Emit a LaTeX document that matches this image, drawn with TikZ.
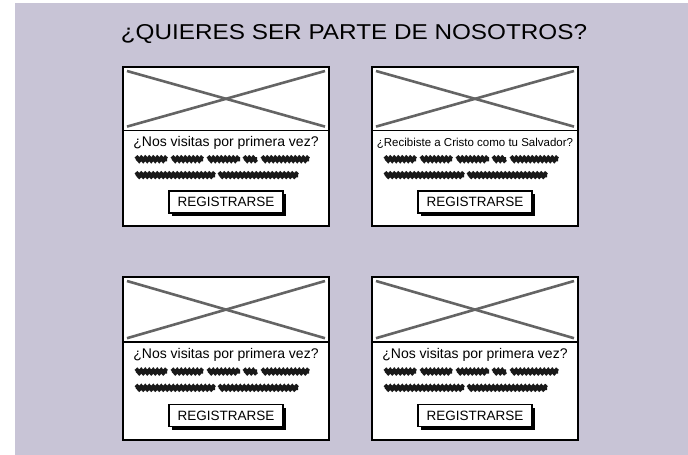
\documentclass[tikz,border=0pt]{standalone}
\usepackage{fontspec}
\setmainfont{Liberation Sans}
\usetikzlibrary{decorations.pathmorphing,shadows}
\definecolor{lav}{RGB}{200,196,214}
\definecolor{xgray}{RGB}{100,100,100}
\tikzset{
  cardbox/.style={draw=black, line width=2pt, fill=white, anchor=north west, minimum width=206pt, inner sep=0pt, outer sep=0pt},
  cardline/.style={draw=black, line width=1.6pt},
  xline/.style={draw=xgray, line width=2.6pt},
  qtext/.style={inner sep=0pt, text=black},
  scribble/.style={line width=4.4pt, line cap=butt, draw=black!90, decorate, decoration={snake, segment length=4pt, amplitude=1.1pt}},
  regbtn/.style={draw=black, line width=1.8pt, fill=white, minimum width=114pt, minimum height=22pt, inner sep=0pt, font=\fontsize{13.5}{15}\selectfont,
    general shadow={fill=black, shadow xshift=3pt, shadow yshift=-3pt}},
  titletext/.style={inner sep=0pt, font=\fontsize{21.5}{24}\selectfont, xscale=1.13}
}
\newcommand\mycard[6]{%
  \begin{scope}[shift={(#2,#3)}]
    \node[cardbox, minimum height=#4pt] (#1) at (0,0) {};
    \draw[cardline] (0,{0.4*#4}) -- (206,{0.4*#4});
    \draw[xline] (4,4) -- (202,{0.4*#4-4});
    \draw[xline] (4,{0.4*#4-4}) -- (202,4);
    \node[qtext, font=#6] (#1q) at (103,{0.48*#4}) {#5};
    \foreach \a/\b in {13/44,49/80,85/117,121/134,139/186}
      \draw[scribble] (\a,{0.58*#4}) -- (\b,{0.58*#4});
    \foreach \a/\b in {13/92,96/175}
      \draw[scribble] (\a,{0.68*#4}) -- (\b,{0.68*#4});
    \node[regbtn] (#1b) at (103,{0.85*#4}) {REGISTRARSE};
  \end{scope}}
\begin{document}
\begin{tikzpicture}[x=1pt,y=-1pt]
\useasboundingbox (0,0) rectangle (688,455);
\fill[white] (0,0) rectangle (688,455);
\fill[lav] (15,3) rectangle (688,455);
\node[titletext] (title) at (354,34.5) {¿QUIERES SER PARTE DE NOSOTROS?};
\mycard{c1}{123}{67}{159}{¿Nos visitas por primera vez?}{\fontsize{14}{16}\selectfont}
\mycard{c2}{372}{67}{159}{¿Recibiste a Cristo como tu Salvador?}{\fontsize{11.5}{13}\selectfont}
\mycard{c3}{123}{277}{163}{¿Nos visitas por primera vez?}{\fontsize{14}{16}\selectfont}
\mycard{c4}{372}{277}{163}{¿Nos visitas por primera vez?}{\fontsize{14}{16}\selectfont}
\end{tikzpicture}
\end{document}
